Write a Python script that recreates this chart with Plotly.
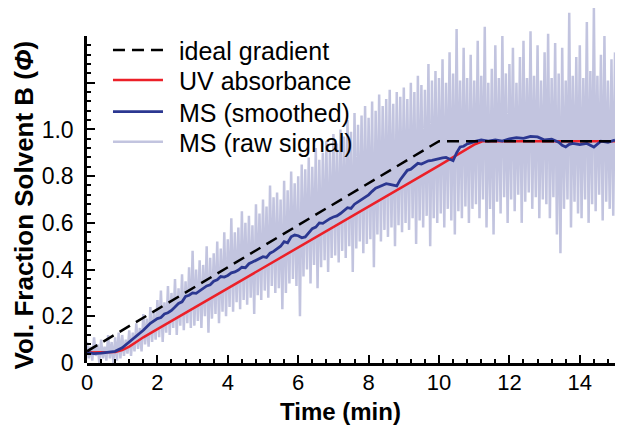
import plotly.graph_objects as go

# ---------------- data ----------------
ideal_t = [0, 10, 15]
ideal_phi = [0.05, 0.95, 0.95]

uv_t = [0, 0.5, 0.8, 1.0, 1.2, 1.4, 1.6, 2.0, 3.0, 4.0, 5.0, 6.0, 7.0, 8.0, 9.0, 10.0, 11.0, 11.25, 15.0]
uv_phi = [0.045, 0.045, 0.047, 0.055, 0.07, 0.09, 0.11, 0.145, 0.232, 0.32, 0.407, 0.495, 0.582, 0.67, 0.757,
          0.845, 0.935, 0.95, 0.95]

ms_t = [0.0, 0.2, 0.4, 0.6, 0.8, 1.0, 1.2, 1.4, 1.6, 1.8, 2.0, 2.1, 2.2, 2.3, 2.4, 2.5, 2.6, 2.7, 2.8, 2.9,
        3.0, 3.1, 3.2, 3.3, 3.4, 3.5, 3.6, 3.7, 3.8, 3.9, 4.0, 4.1, 4.2, 4.3, 4.4, 4.5, 4.6, 4.7, 4.8, 4.9,
        5.0, 5.1, 5.2, 5.3, 5.4, 5.5, 5.6, 5.7, 5.8, 5.9, 6.0, 6.1, 6.2, 6.3, 6.4, 6.5, 6.6, 6.7, 6.8, 6.9,
        7.0, 7.1, 7.2, 7.3, 7.4, 7.5, 7.6, 7.7, 7.8, 7.9, 8.0, 8.1, 8.2, 8.3, 8.4, 8.5, 8.6, 8.7, 8.8, 8.9,
        9.0, 9.1, 9.2, 9.3, 9.4, 9.5, 9.6, 9.7, 9.8, 9.9, 10.0, 10.1, 10.2, 10.3, 10.4, 10.5, 10.6, 10.7, 10.8, 10.9,
        11.0, 11.2, 11.4, 11.6, 11.8, 12.0, 12.2, 12.4, 12.6, 12.8, 13.0, 13.2, 13.4, 13.5, 13.6, 13.7, 13.8,
        14.0, 14.2, 14.4, 14.6, 14.8, 15.0]
ms_phi = [0.045, 0.04, 0.042, 0.045, 0.05, 0.065, 0.09, 0.115, 0.14, 0.17, 0.19, 0.195, 0.21, 0.215, 0.225,
          0.24, 0.255, 0.262, 0.285, 0.29, 0.30, 0.298, 0.31, 0.322, 0.33, 0.335, 0.35, 0.356, 0.37, 0.368,
          0.375, 0.386, 0.39, 0.398, 0.41, 0.408, 0.425, 0.432, 0.44, 0.446, 0.455, 0.452, 0.47, 0.478, 0.49,
          0.50, 0.52, 0.515, 0.54, 0.548, 0.545, 0.536, 0.54, 0.556, 0.575, 0.582, 0.60, 0.598, 0.61, 0.618,
          0.625, 0.63, 0.64, 0.652, 0.665, 0.662, 0.68, 0.69, 0.70, 0.708, 0.72, 0.735, 0.748, 0.755, 0.762,
          0.768, 0.765, 0.76, 0.758, 0.785, 0.805, 0.825, 0.83, 0.842, 0.855, 0.852, 0.86, 0.866, 0.868, 0.872,
          0.875, 0.878, 0.88, 0.872, 0.866, 0.90, 0.925, 0.928, 0.938, 0.942, 0.948, 0.955, 0.95, 0.955, 0.95,
          0.96, 0.965, 0.962, 0.97, 0.968, 0.955, 0.958, 0.945, 0.932, 0.925, 0.936, 0.94, 0.935, 0.94, 0.925,
          0.95, 0.945, 0.955]

# raw MS signal: peak values at t = 0.0, 0.1, ... 15.0 and trough values at t = 0.05, 0.15, ... 14.95
raw_hi = [0.09, 0.07, 0.11, 0.08, 0.10, 0.07, 0.12, 0.09, 0.11, 0.13,
          0.12, 0.10, 0.14, 0.13, 0.17, 0.15, 0.21, 0.19, 0.24, 0.22,
          0.27, 0.31, 0.26, 0.33, 0.30, 0.36, 0.32, 0.38, 0.35, 0.41,
          0.48, 0.40, 0.44, 0.42, 0.50, 0.45, 0.47, 0.52, 0.49, 0.56,
          0.53, 0.62, 0.56, 0.58, 0.65, 0.60, 0.63, 0.59, 0.68, 0.64,
          0.70, 0.67, 0.76, 0.71, 0.73, 0.70, 0.78, 0.74, 0.82, 0.77,
          0.80, 0.85, 0.83, 0.88, 0.84, 0.92, 0.87, 0.90, 0.95, 0.91,
          0.98, 0.94, 1.00, 0.97, 1.04, 0.99, 1.07, 1.02, 1.06, 1.10,
          1.05, 1.12, 1.08, 1.15, 1.10, 1.13, 1.17, 1.11, 1.16, 1.14,
          1.18, 1.13, 1.20, 1.16, 1.23, 1.19, 1.17, 1.28, 1.21, 1.25,
          1.22, 1.30, 1.20, 1.33, 1.24, 1.43, 1.21, 1.35, 1.22, 1.32,
          1.21, 1.38, 1.23, 1.44, 1.20, 1.26, 1.36, 1.22, 1.40, 1.24,
          1.28, 1.35, 1.20, 1.31, 1.38, 1.22, 1.42, 1.23, 1.36, 1.21,
          1.33, 1.41, 1.22, 1.37, 1.24, 1.35, 1.21, 1.50, 1.23, 1.31,
          1.36, 1.22, 1.46, 1.25, 1.52, 1.23, 1.32, 1.40, 1.21, 1.30,
          1.33]
raw_lo = [0.02, 0.01, 0.03, 0.00, 0.02, 0.01, 0.02, 0.00, 0.01, 0.02,
          0.03, 0.04, 0.03, 0.05, 0.06, 0.05, 0.08, 0.07, 0.09, 0.10,
          0.11, 0.09, 0.13, 0.12, 0.15, 0.12, 0.16, 0.14, 0.17, 0.15,
          0.16, 0.18, 0.15, 0.20, 0.13, 0.19, 0.21, 0.17, 0.22, 0.20,
          0.24, 0.22, 0.26, 0.23, 0.27, 0.25, 0.28, 0.21, 0.29, 0.27,
          0.31, 0.28, 0.33, 0.30, 0.32, 0.23, 0.30, 0.34, 0.36, 0.33,
          0.20, 0.37, 0.40, 0.34, 0.42, 0.32, 0.41, 0.44, 0.39, 0.45,
          0.46, 0.43, 0.48, 0.45, 0.50, 0.39, 0.49, 0.52, 0.47, 0.51,
          0.53, 0.41, 0.55, 0.52, 0.57, 0.54, 0.58, 0.50, 0.59, 0.56,
          0.60, 0.57, 0.62, 0.51, 0.61, 0.58, 0.63, 0.50, 0.62, 0.60,
          0.64, 0.58, 0.66, 0.61, 0.55, 0.65, 0.62, 0.67, 0.60, 0.66,
          0.68, 0.62, 0.70, 0.58, 0.66, 0.55, 0.69, 0.64, 0.71, 0.60,
          0.70, 0.65, 0.72, 0.60, 0.69, 0.73, 0.66, 0.71, 0.62, 0.70,
          0.68, 0.62, 0.71, 0.55, 0.47, 0.66, 0.70, 0.58, 0.69, 0.64,
          0.62, 0.70, 0.60, 0.68, 0.65, 0.72, 0.61, 0.69, 0.66, 0.63]

x_tick_vals = [0, 2, 4, 6, 8, 10, 12, 14]
y_tick_vals = [0, 0.2, 0.4, 0.6, 0.8, 1.0, 1.2, 1.4]
y_tick_text = ["0", "0.2", "0.4", "0.6", "0.8", "1.0", "", ""]

legend_labels = ["ideal gradient", "UV absorbance", "MS (smoothed)", "MS (raw signal)"]

# interleave peaks and troughs into one raw trace
raw_t, raw_phi = [], []
for i, h in enumerate(raw_hi):
    raw_t.append(round(i * 0.1, 2))
    raw_phi.append(h)
    if i < len(raw_lo):
        raw_t.append(round(i * 0.1 + 0.05, 2))
        raw_phi.append(raw_lo[i])

FONT = "Liberation Sans, Arial, Helvetica, sans-serif"
RAW_C = "rgb(194,196,223)"
MS_C = "rgb(43,55,145)"
UV_C = "rgb(236,32,40)"
IDEAL_LINE = dict(color="black", width=2.5, dash="12px,7px")
UV_LINE = dict(color=UV_C, width=2.5)
MS_LINE = dict(color=MS_C, width=2.8)
RAW_LINE = dict(color=RAW_C, width=2.5)

Y_TOP = 1.4      # drawn axis top
Y_PLOT = 1.52    # drawing area top (raw spikes go above the axis)

fig = go.Figure()
# raw signal on the full-height (hidden) axis 'y' -> drawn underneath
fig.add_trace(go.Scatter(x=raw_t, y=raw_phi, mode="lines", name=legend_labels[3],
                         line=RAW_LINE, yaxis="y", showlegend=False))
fig.add_trace(go.Scatter(x=uv_t, y=uv_phi, mode="lines", name=legend_labels[1],
                         line=UV_LINE, yaxis="y2", showlegend=False))
fig.add_trace(go.Scatter(x=ms_t, y=ms_phi, mode="lines", name=legend_labels[2],
                         line=MS_LINE, yaxis="y2", showlegend=False))
fig.add_trace(go.Scatter(x=ideal_t, y=ideal_phi, mode="lines", name=legend_labels[0],
                         line=IDEAL_LINE, yaxis="y2", showlegend=False))

# legend drawn as line samples + text (paper coordinates)
leg_rows = [0.8817, 0.7972, 0.7079, 0.6234]
leg_lines = [IDEAL_LINE, UV_LINE, MS_LINE, RAW_LINE]
shapes = []
annotations = []
for yy, ln, lab in zip(leg_rows, leg_lines, legend_labels):
    shapes.append(dict(type="line", xref="paper", yref="paper", x0=0.0492, x1=0.1439, y0=yy, y1=yy,
                       line=ln))
    annotations.append(dict(text=lab, xref="paper", yref="paper", x=0.1705, y=yy - 0.004,
                            xanchor="left", yanchor="middle", showarrow=False,
                            font=dict(size=25, family=FONT)))

annotations += [
    dict(text="<b>Vol. Fraction Solvent B (<i>Φ</i>)</b>", xref="paper", yref="paper",
         x=-0.1184, y=0.445, xanchor="center", yanchor="middle", textangle=-90,
         showarrow=False, font=dict(size=26, family=FONT)),
    dict(text="<b>Time (min)</b>", xref="paper", yref="paper",
         x=0.481, y=-0.136, xanchor="center", yanchor="middle",
         showarrow=False, font=dict(size=24, family=FONT)),
]

fig.update_layout(
    width=616, height=424,
    margin=dict(l=79, r=9, t=0, b=69, autoexpand=False),
    paper_bgcolor="white", plot_bgcolor="rgba(0,0,0,0)",
    font=dict(family=FONT, color="black", size=23),
    showlegend=False,
    xaxis=dict(range=[0, 15], tickmode="array", tickvals=x_tick_vals,
               ticks="inside", ticklen=8, tickwidth=2, tickcolor="black",
               showline=True, linewidth=2.5, linecolor="black", showgrid=False, zeroline=False,
               anchor="y", tickfont=dict(size=22), automargin=False, ticklabelstandoff=-2,
               minor=dict(ticks="inside", dtick=0.4, tick0=0, ticklen=4, tickwidth=1.5,
                          tickcolor="black", showgrid=False)),
    yaxis=dict(range=[0, Y_PLOT], domain=[0, 1], anchor="x", visible=False,
               showgrid=False, zeroline=False, automargin=False),
    yaxis2=dict(range=[0, Y_TOP], domain=[0, Y_TOP / Y_PLOT], anchor="x",
                tickmode="array", tickvals=y_tick_vals, ticktext=y_tick_text,
                ticks="inside", ticklen=8, tickwidth=2, tickcolor="black",
                showline=True, linewidth=2.5, linecolor="black", showgrid=False, zeroline=False,
                tickfont=dict(size=23), ticklabelstandoff=6, automargin=False,
                minor=dict(ticks="inside", dtick=0.04, tick0=0, ticklen=4, tickwidth=1.5,
                           tickcolor="black", showgrid=False)),
    shapes=shapes,
    annotations=annotations,
)

fig.write_html("out.html")
